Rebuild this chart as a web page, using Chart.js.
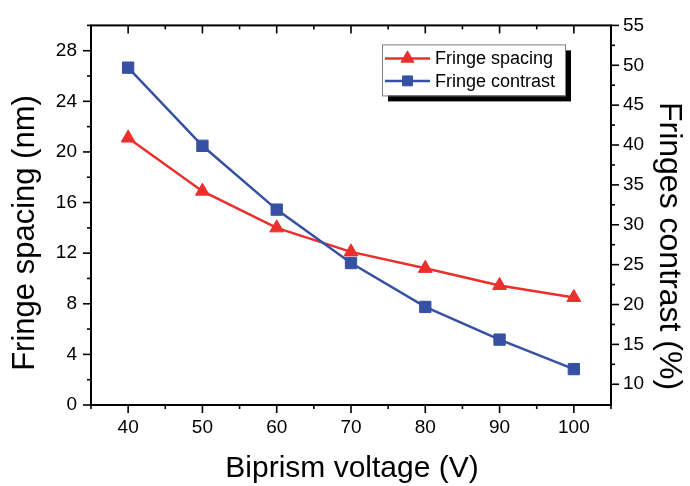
<!DOCTYPE html>
<html>
<head>
<meta charset="utf-8">
<script src="https://cdn.jsdelivr.net/npm/chart.js@4.4.1/dist/chart.umd.min.js"></script>
<style>
html, body { margin: 0; padding: 0; background: #fff; }
#wrap { width: 690px; height: 486px; }
</style>
</head>
<body>
<div id="wrap"><canvas id="fringeChart" width="690" height="486"></canvas></div>
<script>
// data
const voltages = [40, 50, 60, 70, 80, 90, 100];
const fringeSpacing = [21.1, 16.9, 14.0, 12.1, 10.8, 9.45, 8.5];   // nm, left axis
const fringeContrast = [49.7, 39.9, 31.9, 25.2, 19.7, 15.6, 11.9]; // %, right axis

// axis ticks
const xTicks = [40, 50, 60, 70, 80, 90, 100];
const xMinor = [35, 45, 55, 65, 75, 85, 95, 105];
const leftTicks = [0, 4, 8, 12, 16, 20, 24, 28];
const leftMinor = [2, 6, 10, 14, 18, 22, 26, 30];
const rightTicks = [10, 15, 20, 25, 30, 35, 40, 45, 50, 55];
const rightMinor = [12.5, 17.5, 22.5, 27.5, 32.5, 37.5, 42.5, 47.5, 52.5];

const RED = '#ec2f2c';
const BLUE = '#3651a3';
const FONT = "'Liberation Sans', Arial, sans-serif";

// frame, tick marks, axis titles and the boxed legend
const decorations = {
    id: 'decorations',
    afterDraw(chart) {
        const ctx = chart.ctx;
        const a = chart.chartArea;
        const sx = chart.scales.x, sl = chart.scales.y, sr = chart.scales.y1;
        ctx.save();
        ctx.strokeStyle = '#000';
        ctx.lineWidth = 2;
        ctx.strokeRect(a.left, a.top, a.right - a.left, a.bottom - a.top);

        function tick(x1, y1, x2, y2) {
            ctx.beginPath();
            ctx.moveTo(x1, y1);
            ctx.lineTo(x2, y2);
            ctx.stroke();
        }
        ctx.lineWidth = 1.6;
        xTicks.forEach(v => {
            const p = sx.getPixelForValue(v);
            tick(p, a.bottom, p, a.bottom + 8);
            tick(p, a.top, p, a.top + 8);
        });
        xMinor.forEach(v => {
            const p = sx.getPixelForValue(v);
            tick(p, a.bottom, p, a.bottom + 4);
            tick(p, a.top, p, a.top + 4);
        });
        leftTicks.forEach(v => { const p = sl.getPixelForValue(v); tick(a.left - 8, p, a.left, p); });
        leftMinor.forEach(v => { const p = sl.getPixelForValue(v); tick(a.left - 4, p, a.left, p); });
        rightTicks.forEach(v => { const p = sr.getPixelForValue(v); tick(a.right, p, a.right + 8, p); });
        rightMinor.forEach(v => { const p = sr.getPixelForValue(v); tick(a.right, p, a.right + 4, p); });

        // axis titles
        ctx.fillStyle = '#000';
        ctx.textAlign = 'center';
        ctx.textBaseline = 'alphabetic';
        ctx.font = '30px ' + FONT;
        ctx.fillText('Biprism voltage (V)', 352, 477);

        ctx.save();
        ctx.translate(34, 233);
        ctx.rotate(-Math.PI / 2);
        ctx.font = '31px ' + FONT;
        ctx.fillText('Fringe spacing (nm)', 0, 0);
        ctx.restore();

        ctx.save();
        ctx.translate(660, 246);
        ctx.rotate(Math.PI / 2);
        ctx.font = '32px ' + FONT;
        ctx.fillText('Fringes contrast (%)', 0, 0);
        ctx.restore();

        // legend box with drop shadow
        const bx = a.left + 291, by = a.top + 19, bw = 183, bh = 51;
        ctx.fillStyle = '#000';
        ctx.fillRect(bx + 6, by + 6, bw, bh);
        ctx.fillStyle = '#fff';
        ctx.fillRect(bx, by, bw, bh);
        ctx.strokeStyle = '#808080';
        ctx.lineWidth = 1;
        ctx.strokeRect(bx + 0.5, by + 0.5, bw, bh);

        const rows = [chart.data.datasets[1], chart.data.datasets[0]];
        rows.forEach((ds, i) => {
            const ry = by + 14 + i * 22.5;
            ctx.strokeStyle = ds.borderColor;
            ctx.lineWidth = 2.5;
            tick(bx + 3, ry, bx + 48, ry);
            ctx.fillStyle = ds.backgroundColor;
            ctx.strokeStyle = ds.borderColor;
            ctx.lineWidth = 1;
            Chart.helpers.drawPoint(ctx, { pointStyle: ds.pointStyle, radius: ds.pointStyle === 'rect' ? 7 : 7.5, rotation: 0, borderWidth: 1 }, bx + 25.5, ry);
            ctx.fillStyle = '#000';
            ctx.textAlign = 'left';
            ctx.textBaseline = 'middle';
            ctx.font = '18px ' + FONT;
            ctx.fillText(ds.label, bx + 53, ry + 1);
        });
        ctx.restore();
    }
};

const tickFont = { family: FONT, size: 19 };

new Chart(document.getElementById('fringeChart').getContext('2d'), {
    type: 'line',
    data: {
        datasets: [
            {
                label: 'Fringe contrast',
                data: voltages.map((v, i) => ({ x: v, y: fringeContrast[i] })),
                yAxisID: 'y1',
                borderColor: BLUE,
                backgroundColor: BLUE,
                borderWidth: 2.5,
                pointStyle: 'rect',
                pointRadius: 8,
                pointBorderWidth: 1,
                tension: 0,
                order: 0,
            },
            {
                label: 'Fringe spacing',
                data: voltages.map((v, i) => ({ x: v, y: fringeSpacing[i] })),
                yAxisID: 'y',
                borderColor: RED,
                backgroundColor: RED,
                borderWidth: 2.5,
                pointStyle: 'triangle',
                pointRadius: 8,
                pointBorderWidth: 1,
                tension: 0,
                order: 1,
            },
        ],
    },
    options: {
        responsive: false,
        animation: false,
        devicePixelRatio: 1,
        layout: { padding: { top: 20, left: 0, right: 0, bottom: 0 } },
        plugins: {
            legend: { display: false },
            tooltip: { enabled: false },
        },
        scales: {
            x: {
                type: 'linear',
                min: 35,
                max: 105,
                afterBuildTicks: s => { s.ticks = xTicks.map(v => ({ value: v })); },
                afterFit: s => { s.height = 81; },
                grid: { display: false, drawTicks: false },
                border: { display: false },
                ticks: { padding: 11, font: tickFont, color: '#000', maxRotation: 0, autoSkip: false },
            },
            y: {
                position: 'left',
                min: 0,
                max: 30,
                afterBuildTicks: s => { s.ticks = leftTicks.map(v => ({ value: v })); },
                afterFit: s => { s.width = 91; },
                grid: { display: false, drawTicks: false },
                border: { display: false },
                ticks: { padding: 14, font: tickFont, color: '#000', autoSkip: false },
            },
            y1: {
                position: 'right',
                min: 7.4,
                max: 55,
                afterBuildTicks: s => { s.ticks = rightTicks.map(v => ({ value: v })); },
                afterFit: s => { s.width = 79; },
                grid: { display: false, drawTicks: false },
                border: { display: false },
                ticks: { padding: 12, font: tickFont, color: '#000', autoSkip: false },
            },
        },
    },
    plugins: [decorations],
});
</script>
</body>
</html>
